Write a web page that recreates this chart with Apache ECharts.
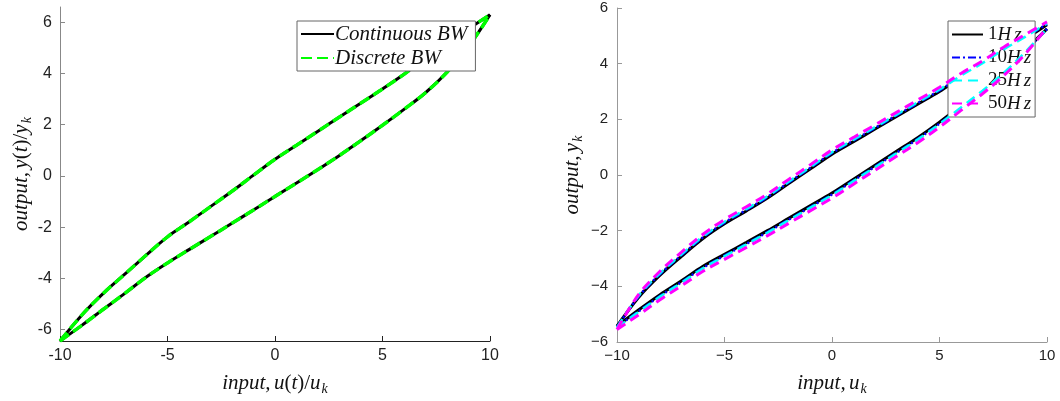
<!DOCTYPE html>
<html>
<head>
<meta charset="utf-8">
<script src="https://cdn.jsdelivr.net/npm/echarts@6/dist/echarts.min.js"></script>
<style>html,body{margin:0;padding:0;background:#fff;}#c{width:1060px;height:401px;}</style>
</head>
<body>
<div id="c"></div>
<script>
// ---------- data ----------
var uGrid = [-10,-9,-8,-7,-6,-5,-4,-3,-2,-1,0,1,2,3,4,5,6,7,8,9,10];
// Left plot: hysteresis loop (upper branch = decreasing input, lower = increasing)
var contUpper = [-6.45,-5.45,-4.6,-3.85,-3.1,-2.38,-1.8,-1.2,-0.6,0.03,0.65,1.2,1.75,2.3,2.85,3.4,3.97,4.6,5.2,5.75,6.3];
var contLower = [-6.45,-5.85,-5.22,-4.6,-3.96,-3.4,-2.88,-2.37,-1.85,-1.33,-0.8,-0.28,0.25,0.8,1.38,1.98,2.6,3.25,4.05,5.05,6.3];
var discUpper = [-6.45,-5.45,-4.6,-3.85,-3.1,-2.38,-1.8,-1.2,-0.6,0.03,0.65,1.2,1.75,2.3,2.85,3.4,3.97,4.6,5.2,5.75,6.3];
var discLower = [-6.45,-5.85,-5.22,-4.6,-3.96,-3.4,-2.88,-2.37,-1.85,-1.33,-0.8,-0.28,0.25,0.8,1.38,1.98,2.6,3.25,4.05,5.05,6.3];
// Right plot: frequency dependence
var hz1Upper  = [-5.43,-4.4,-3.6,-2.92,-2.28,-1.75,-1.3,-0.83,-0.3,0.22,0.75,1.2,1.65,2.1,2.55,3.0,3.5,3.95,4.45,4.9,5.4];
var hz1Lower  = [-5.43,-4.85,-4.3,-3.8,-3.28,-2.85,-2.43,-2.0,-1.55,-1.1,-0.65,-0.15,0.35,0.85,1.35,1.9,2.5,3.1,3.75,4.5,5.25];
var hz10Upper = [-5.46,-4.37,-3.56,-2.88,-2.24,-1.71,-1.26,-0.79,-0.26,0.26,0.79,1.24,1.69,2.14,2.59,3.04,3.54,3.99,4.49,4.94,5.43];
var hz10Lower = [-5.46,-4.9,-4.35,-3.85,-3.33,-2.9,-2.48,-2.05,-1.6,-1.15,-0.7,-0.2,0.3,0.8,1.3,1.85,2.45,3.05,3.7,4.45,5.25];
var hz25Upper = [-5.48,-4.34,-3.53,-2.85,-2.21,-1.68,-1.23,-0.76,-0.23,0.29,0.82,1.27,1.72,2.17,2.62,3.07,3.57,4.02,4.52,4.97,5.45];
var hz25Lower = [-5.48,-4.92,-4.37,-3.87,-3.35,-2.92,-2.5,-2.07,-1.62,-1.17,-0.72,-0.22,0.28,0.78,1.28,1.83,2.43,3.03,3.68,4.43,5.26];
var hz50Upper = [-5.55,-4.3,-3.46,-2.77,-2.13,-1.6,-1.15,-0.68,-0.15,0.37,0.9,1.35,1.8,2.25,2.7,3.15,3.65,4.1,4.6,5.05,5.5];
var hz50Lower = [-5.55,-5.03,-4.48,-3.98,-3.46,-3.03,-2.61,-2.18,-1.73,-1.28,-0.83,-0.33,0.17,0.67,1.17,1.72,2.32,2.92,3.58,4.36,5.3];
var leftLegend = ['Continuous BW', 'Discrete BW'];
var rightLegend = ['1Hz', '10Hz', '25Hz', '50Hz'];
var leftYTicks = [-6, -4, -2, 0, 2, 4, 6];

// ---------- helpers ----------
function branch(vals) {
  var pts = [];
  for (var i = 0; i < uGrid.length; i++) pts.push([uGrid[i], vals[i]]);
  return pts;
}
var serifI = {fontFamily: 'Liberation Serif', fontStyle: 'italic', fontSize: 21, color: '#111'};
var serifN = {fontFamily: 'Liberation Serif', fontStyle: 'normal', fontSize: 21, color: '#111'};
var sub = {fontFamily: 'Liberation Serif', fontStyle: 'italic', fontSize: 14, color: '#111', padding: [11, 0, 0, 1]};
var nameRich = {i: serifI, n: serifN, s: sub};

function lineSeries(name, xi, upper, lower, color, width, type, z) {
  var base = {name: name, type: 'line', xAxisIndex: xi, yAxisIndex: xi, smooth: 0.35,
    showSymbol: false, symbol: 'none', color: color, z: z,
    lineStyle: {color: color, width: width, type: type}};
  var a = Object.assign({}, base, {data: branch(upper)});
  var b = Object.assign({}, base, {data: branch(lower)});
  return [a, b];
}

var series = [].concat(
  lineSeries('Continuous BW', 0, contUpper, contLower, '#000', 3, 'solid', 2),
  lineSeries('Discrete BW', 0, discUpper, discLower, '#00ff00', 3.5, [11, 5], 3),
  lineSeries('1Hz', 1, hz1Upper, hz1Lower, '#000', 3, 'solid', 2),
  lineSeries('10Hz', 1, hz10Upper, hz10Lower, '#0000ff', 2.5, [8, 3, 2, 3], 3),
  lineSeries('25Hz', 1, hz25Upper, hz25Lower, '#00ffff', 2.5, [10, 6], 4),
  lineSeries('50Hz', 1, hz50Upper, hz50Lower, '#ff00ff', 3, [10, 6], 5)
);

var chart = echarts.init(document.getElementById('c'), null, {renderer: 'canvas'});
var option = {
  animation: false,
  backgroundColor: '#fff',
  grid: [
    {left: 60, top: 7, width: 430, height: 334},
    {left: 617, top: 8, width: 430, height: 335}
  ],
  legend: [
    {
      data: leftLegend,
      orient: 'vertical', left: 297, top: 21, itemWidth: 33, itemHeight: 14, itemGap: 2,
      padding: [2, 8, 2, 3],
      backgroundColor: '#fff', borderColor: '#666', borderWidth: 1, borderRadius: 0,
      itemStyle: {opacity: 0},
      textStyle: {fontFamily: 'Liberation Serif', fontStyle: 'italic', fontSize: 21, lineHeight: 22, color: '#111', padding: [0,0,0,-4]}
    },
    {
      data: rightLegend,
      orient: 'vertical', left: 948, top: 21, itemWidth: 31, itemHeight: 14, itemGap: 4,
      padding: [4, 4, 4, 3],
      backgroundColor: '#fff', borderColor: '#666', borderWidth: 1, borderRadius: 0,
      itemStyle: {opacity: 0},
      formatter: function (n) { var m = n.match(/^(\d+)(Hz)$/); return '{n|' + m[1] + '}{i|H}{z|z}'; },
      textStyle: {
        rich: {
          n: {fontFamily: 'Liberation Serif', fontSize: 19, color: '#111'},
          i: {fontFamily: 'Liberation Serif', fontStyle: 'italic', fontSize: 19, color: '#111'},
          z: {fontFamily: 'Liberation Serif', fontStyle: 'italic', fontSize: 19, color: '#111', padding: [0,0,0,3]}
        }
      }
    }
  ],
  xAxis: [
    {
      gridIndex: 0, type: 'value', min: -10, max: 10, interval: 5,
      axisLine: {show: true, onZero: false, lineStyle: {color: '#222', width: 1}},
      axisTick: {show: true, inside: true, length: 5, lineStyle: {color: '#222'}},
      axisLabel: {fontFamily: 'Liberation Sans', fontSize: 16, color: '#222', margin: 7},
      splitLine: {show: false},
      name: '{i|input,} {i|u}{n|(}{i|t}{n|)/}{i|u}{s|k}', nameLocation: 'middle', nameGap: 30,
      nameTextStyle: {rich: nameRich}
    },
    {
      gridIndex: 1, type: 'value', min: -10, max: 10, interval: 5,
      axisLine: {show: true, onZero: false, lineStyle: {color: '#999', width: 1}},
      axisTick: {show: true, inside: true, length: 5, lineStyle: {color: '#999'}},
      axisLabel: {fontFamily: 'Liberation Sans', fontSize: 15, color: '#222', margin: 6,
        formatter: function (v) { return String(v).replace('-', '\u2212'); }},
      splitLine: {show: false},
      name: '{i|input,} {i|u}{s|k}', nameLocation: 'middle', nameGap: 29,
      nameTextStyle: {rich: nameRich}
    }
  ],
  yAxis: [
    {
      gridIndex: 0, type: 'value', min: -6.45, max: 6.6,
      axisLine: {show: true, onZero: false, lineStyle: {color: '#888', width: 1}},
      axisTick: {show: true, inside: true, length: 5, lineStyle: {color: '#888'}, customValues: leftYTicks},
      axisLabel: {fontFamily: 'Liberation Sans', fontSize: 16, color: '#222', margin: 8, customValues: leftYTicks},
      splitLine: {show: false},
      name: '{i|output,} {i|y}{n|(}{i|t}{n|)/}{i|y}{s|k}', nameLocation: 'middle', nameGap: 18, nameRotate: 90,
      nameTextStyle: {rich: nameRich}
    },
    {
      gridIndex: 1, type: 'value', min: -6, max: 6, interval: 2,
      axisLine: {show: true, onZero: false, lineStyle: {color: '#999', width: 1}},
      axisTick: {show: true, inside: true, length: 5, lineStyle: {color: '#999'}},
      axisLabel: {fontFamily: 'Liberation Sans', fontSize: 15, color: '#222', margin: 9,
        formatter: function (v) { return String(v).replace('-', '\u2212'); }},
      splitLine: {show: false},
      name: '{i|output,} {i|y}{s|k}', nameLocation: 'middle', nameGap: 32, nameRotate: 90,
      nameTextStyle: {rich: nameRich}
    }
  ],
  series: series
};
chart.setOption(option);
</script>
</body>
</html>
